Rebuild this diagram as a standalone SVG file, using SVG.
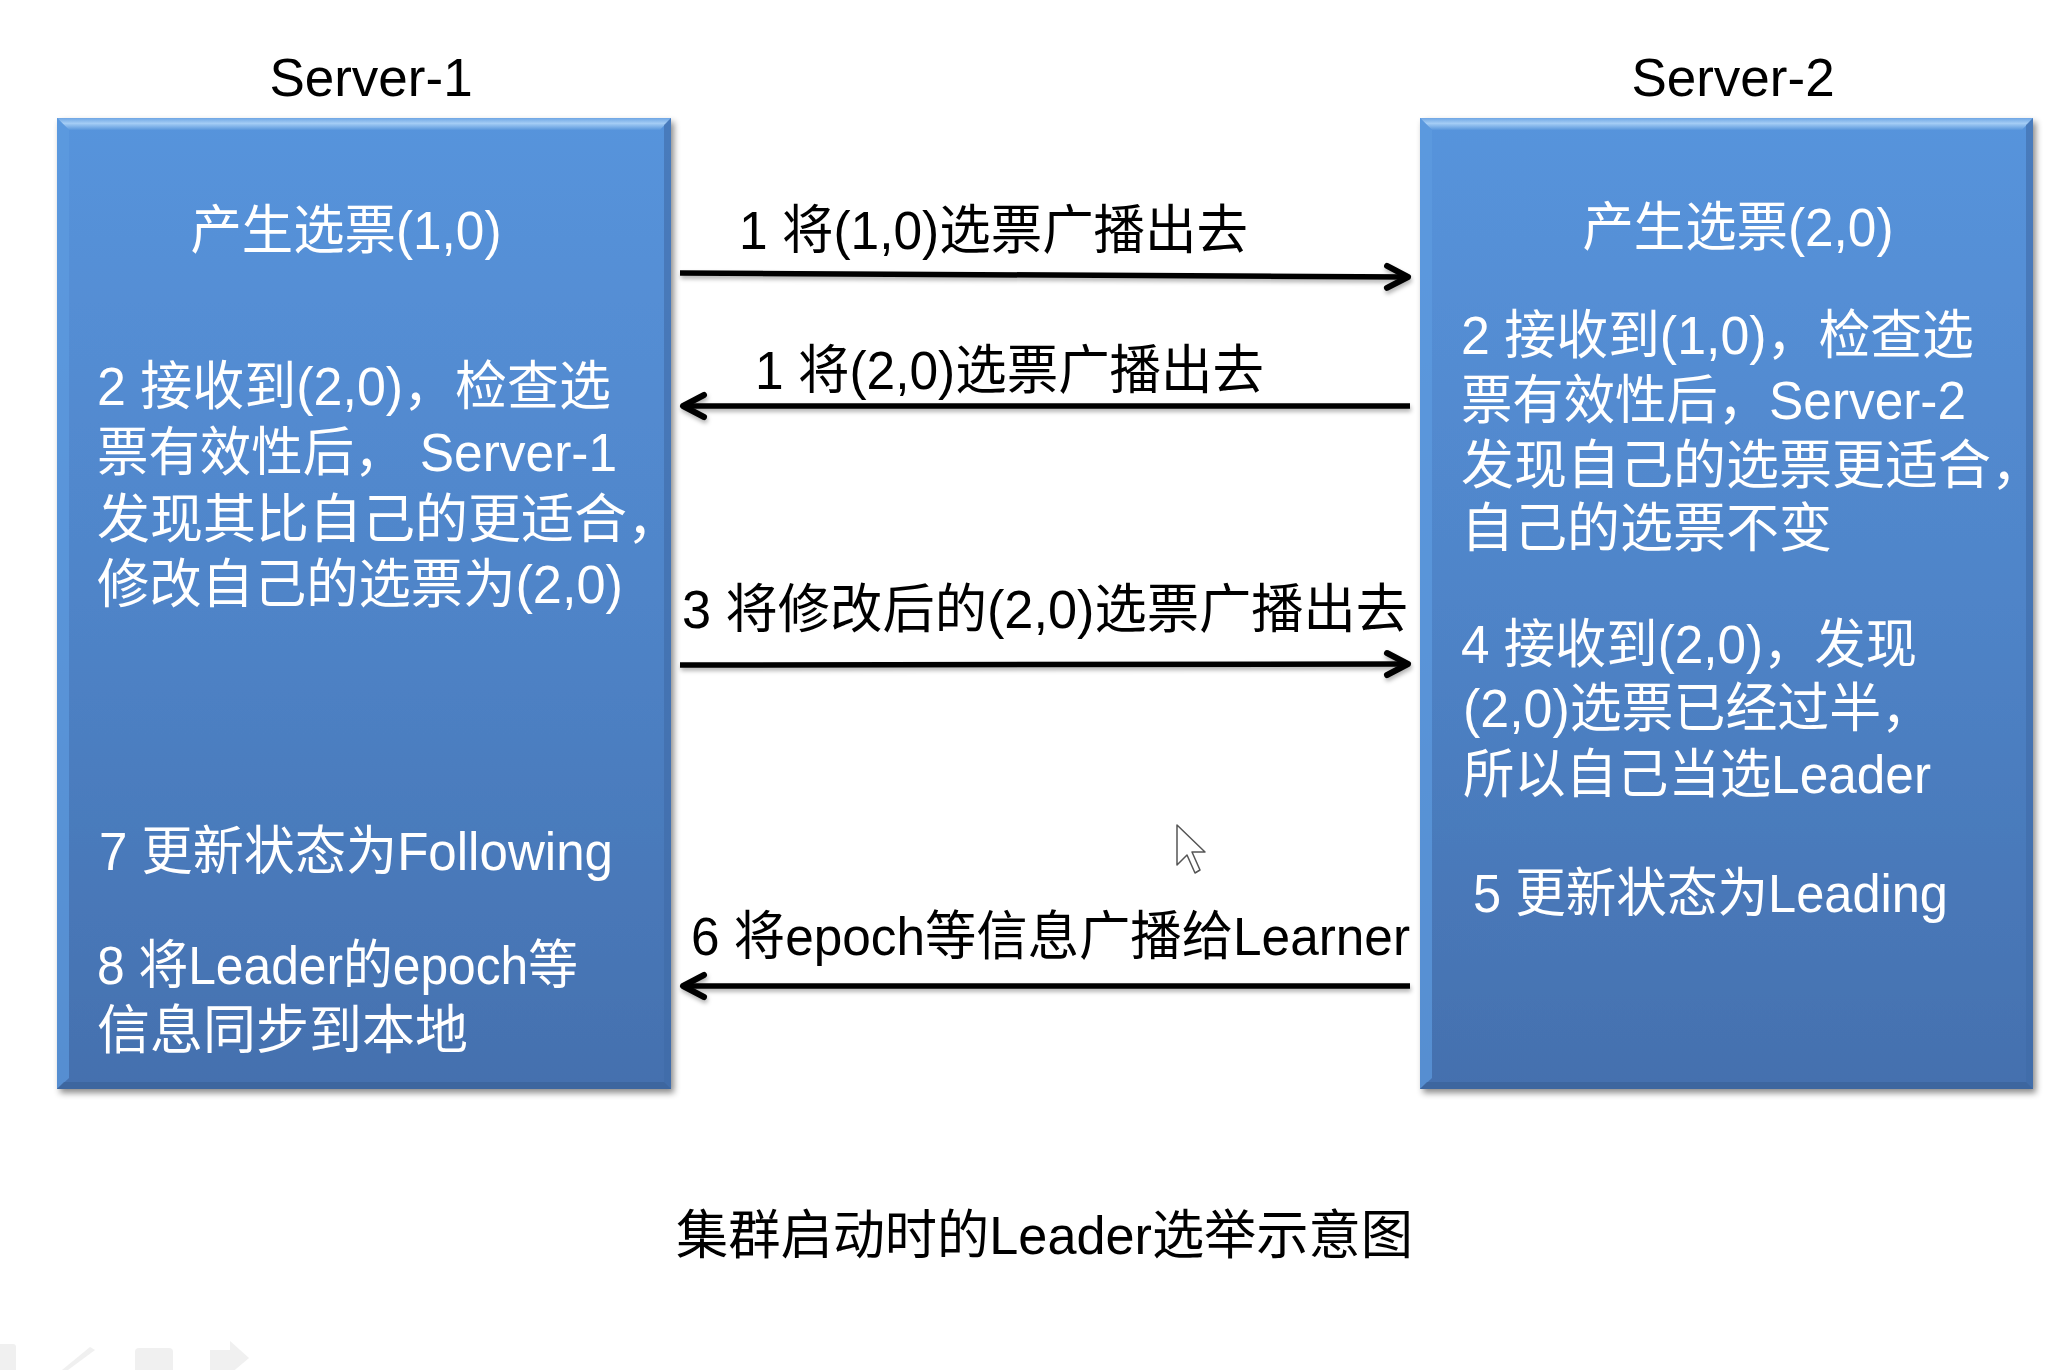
<svg xmlns="http://www.w3.org/2000/svg" width="2068" height="1370" viewBox="0 0 2068 1370">
  <style>
    .t { font-family: "Liberation Sans", "Noto Sans CJK SC", sans-serif; font-size: 53px; }
    .w { fill: #ffffff; }
    .k { fill: #000000; }
    .edge { stroke: #000; stroke-width: 5.5; fill: none; marker-end: url(#arr); }
  </style>
  <defs>
    <linearGradient id="boxg" x1="0" y1="0" x2="0" y2="1">
      <stop offset="0" stop-color="#5794dc"/>
      <stop offset="0.5" stop-color="#4f84c8"/>
      <stop offset="1" stop-color="#4470ae"/>
    </linearGradient>
    <linearGradient id="bevt" x1="0" y1="0" x2="0" y2="1">
      <stop offset="0" stop-color="#6fa6e4"/>
      <stop offset="0.45" stop-color="#a4cdf5"/>
      <stop offset="1" stop-color="#5a97dc"/>
    </linearGradient>
    <filter id="bsh" x="-5%" y="-5%" width="115%" height="115%">
      <feDropShadow dx="3" dy="4" stdDeviation="3" flood-color="#000" flood-opacity="0.45"/>
    </filter>
    <filter id="lsh" filterUnits="userSpaceOnUse" x="0" y="0" width="2068" height="1370">
      <feDropShadow dx="1" dy="3" stdDeviation="2" flood-color="#000" flood-opacity="0.3"/>
    </filter>
    <marker id="arr" markerUnits="userSpaceOnUse" markerWidth="40" markerHeight="40" viewBox="-30 -20 40 40" refX="0" refY="0" orient="auto">
      <path d="M-21,-11 L0,0 L-21,11" fill="none" stroke="#000" stroke-width="6" stroke-linecap="round" stroke-linejoin="round"/>
    </marker>
  </defs>

  <rect width="2068" height="1370" fill="#ffffff"/>

  <!-- Server-1 -->
  <g id="server1">
    <text class="t k" x="371" y="96" text-anchor="middle">Server-1</text>
    <g filter="url(#bsh)">
      <rect x="57" y="118" width="614" height="971" fill="url(#boxg)"/>
    </g>
    <polygon points="57,118 671,118 660,130 69,130" fill="url(#bevt)"/>
    <polygon points="57,118 69,130 69,1078 57,1089" fill="#5e9be0" opacity="0.7"/>
    <polygon points="671,118 671,1089 664,1082 664,125" fill="#3f6aa6" opacity="0.6"/>
    <polygon points="57,1089 671,1089 664,1082 64,1082" fill="#3b6299" opacity="0.7"/>
    <text class="t w" x="346" y="249" text-anchor="middle" textLength="311" lengthAdjust="spacingAndGlyphs">产生选票(1,0)</text>
    <text class="t w" x="97" y="405" textLength="514" lengthAdjust="spacingAndGlyphs">2 接收到(2,0)，检查选</text>
    <text class="t w" x="97" y="471" textLength="520" lengthAdjust="spacingAndGlyphs">票有效性后， Server-1</text>
    <text class="t w" x="97" y="538">发现其比自己的更适合，</text>
    <text class="t w" x="97" y="603" textLength="526" lengthAdjust="spacingAndGlyphs">修改自己的选票为(2,0)</text>
    <text class="t w" x="99" y="870" textLength="514" lengthAdjust="spacingAndGlyphs">7 更新状态为Following</text>
    <text class="t w" x="97" y="984" textLength="481" lengthAdjust="spacingAndGlyphs">8 将Leader的epoch等</text>
    <text class="t w" x="97" y="1049">信息同步到本地</text>
  </g>

  <!-- Server-2 -->
  <g id="server2">
    <text class="t k" x="1733" y="96" text-anchor="middle">Server-2</text>
    <g filter="url(#bsh)">
      <rect x="1420" y="118" width="613" height="971" fill="url(#boxg)"/>
    </g>
    <polygon points="1420,118 2033,118 2022,130 1432,130" fill="url(#bevt)"/>
    <polygon points="1420,118 1432,130 1432,1078 1420,1089" fill="#5e9be0" opacity="0.7"/>
    <polygon points="2033,118 2033,1089 2026,1082 2026,125" fill="#3f6aa6" opacity="0.6"/>
    <polygon points="1420,1089 2033,1089 2026,1082 1427,1082" fill="#3b6299" opacity="0.7"/>
    <text class="t w" x="1738" y="246" text-anchor="middle" textLength="311" lengthAdjust="spacingAndGlyphs">产生选票(2,0)</text>
    <text class="t w" x="1461" y="354" textLength="513" lengthAdjust="spacingAndGlyphs">2 接收到(1,0)，检查选</text>
    <text class="t w" x="1461" y="419" textLength="505" lengthAdjust="spacingAndGlyphs">票有效性后，Server-2</text>
    <text class="t w" x="1461" y="484">发现自己的选票更适合，</text>
    <text class="t w" x="1461" y="547">自己的选票不变</text>
    <text class="t w" x="1461" y="663" textLength="456" lengthAdjust="spacingAndGlyphs">4 接收到(2,0)，发现</text>
    <text class="t w" x="1463" y="727" textLength="470" lengthAdjust="spacingAndGlyphs">(2,0)选票已经过半，</text>
    <text class="t w" x="1463" y="793" textLength="468" lengthAdjust="spacingAndGlyphs">所以自己当选Leader</text>
    <text class="t w" x="1473" y="912" textLength="475" lengthAdjust="spacingAndGlyphs">5 更新状态为Leading</text>
  </g>

  <!-- connectors -->
  <g id="connectors">
    <g id="e1">
      <line class="edge" filter="url(#lsh)" x1="680" y1="273" x2="1408" y2="277"/>
      <text class="t k" x="739" y="249" textLength="509" lengthAdjust="spacingAndGlyphs">1 将(1,0)选票广播出去</text>
    </g>
    <g id="e2">
      <line class="edge" filter="url(#lsh)" x1="1410" y1="406" x2="683" y2="406"/>
      <text class="t k" x="755" y="389" textLength="509" lengthAdjust="spacingAndGlyphs">1 将(2,0)选票广播出去</text>
    </g>
    <g id="e3">
      <line class="edge" filter="url(#lsh)" x1="680" y1="665" x2="1408" y2="664"/>
      <text class="t k" x="682" y="628" textLength="726" lengthAdjust="spacingAndGlyphs">3 将修改后的(2,0)选票广播出去</text>
    </g>
    <g id="e6">
      <line class="edge" filter="url(#lsh)" x1="1410" y1="986" x2="683" y2="986"/>
      <text class="t k" x="691" y="955" textLength="719" lengthAdjust="spacingAndGlyphs">6 将epoch等信息广播给Learner</text>
    </g>
  </g>

  <!-- caption -->
  <text id="caption" class="t k" x="676" y="1254" textLength="737" lengthAdjust="spacingAndGlyphs">集群启动时的Leader选举示意图</text>

  <!-- mouse cursor -->
  <polygon points="1177,825 1177,865 1187,855 1195,873 1200,870 1192,852 1205,852" fill="#ffffff" stroke="#555555" stroke-width="1.5" stroke-linejoin="round"/>

  <!-- faint slideshow controls -->
  <g fill="#f0f0f0">
    <rect x="-6" y="1344" width="22" height="30" rx="3"/>
    <polygon points="62,1370 68,1370 95,1350 90,1347"/>
    <rect x="135" y="1348" width="38" height="26" rx="4"/>
    <polygon points="210,1350 230,1350 230,1341 249,1358 230,1374 230,1370 210,1370"/>
  </g>
</svg>
